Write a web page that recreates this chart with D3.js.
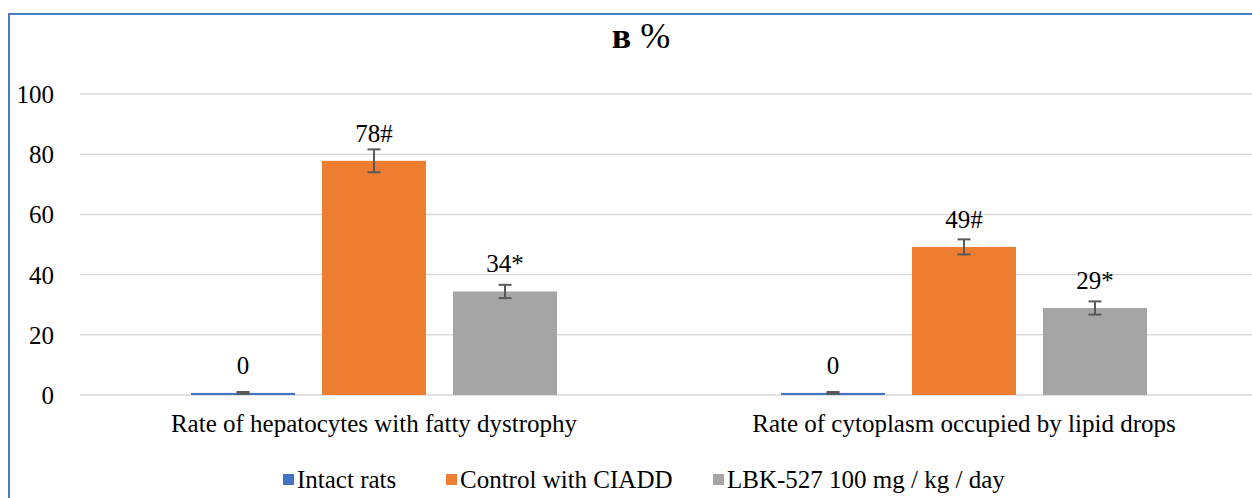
<!DOCTYPE html>
<html><head><meta charset="utf-8">
<script src="https://cdn.jsdelivr.net/npm/d3@7"></script>
<style>html,body{margin:0;padding:0;background:#fff;}svg{display:block;}
svg text{font-family:"Liberation Serif","Times New Roman",serif;}</style>
</head><body>
<svg id="c" width="1252" height="498"></svg>
<script>
const categories = ["Rate of hepatocytes with fatty dystrophy", "Rate of cytoplasm occupied by lipid drops"];
const seriesNames = ["Intact rats", "Control with CIADD", "LBK-527 100 mg / kg / day"];
const intactValues = [0.7, 0.7];
const controlValues = [77.8, 49.2];
const lbkValues = [34.4, 28.9];
const intactErrors = [0.3, 0.3];
const controlErrors = [3.8, 2.5];
const lbkErrors = [2.2, 2.2];
const intactLabels = ["0", "0"];
const controlLabels = ["78#", "49#"];
const lbkLabels = ["34*", "29*"];
const yTicks = [0, 20, 40, 60, 80, 100];
const colors = ["#4472C4", "#ED7D31", "#A5A5A5"];

const values = [intactValues, controlValues, lbkValues];
const errors = [intactErrors, controlErrors, lbkErrors];
const labels = [intactLabels, controlLabels, lbkLabels];

const svg = d3.select("#c");
svg.append("rect").attr("width",1252).attr("height",498).attr("fill","#fff");

const x0 = d3.scaleBand().domain(categories).range([80, 1260]).padding(0);
const x1 = d3.scaleBand().domain(seriesNames).range([111, 477]).paddingInner(0.206).paddingOuter(0);
const y = d3.scaleLinear().domain([0, 100]).range([395, 94]);

// gridlines
svg.append("g").selectAll("line").data(yTicks).join("line")
  .attr("x1", 80).attr("x2", 1260)
  .attr("y1", d => y(d)).attr("y2", d => y(d))
  .attr("stroke", "#d9d9d9").attr("stroke-width", 1.5);

// y axis labels
const yAxis = d3.axisLeft(y).tickValues(yTicks).tickSize(0).tickPadding(0);
const ga = svg.append("g").attr("transform","translate(54,0)").call(yAxis);
ga.select(".domain").remove();
ga.attr("font-family", null);
ga.selectAll("text").attr("font-size", 25).attr("fill","#000").attr("dy","0.34em");

// bars
const data = [];
categories.forEach((c, i) => seriesNames.forEach((s, j) => {
  data.push({c, s, j, v: values[j][i], e: errors[j][i], l: labels[j][i]});
}));
const g = svg.append("g");
g.selectAll("rect.bar").data(data).join("rect").attr("class","bar")
  .attr("x", d => x0(d.c) + x1(d.s))
  .attr("width", x1.bandwidth())
  .attr("y", d => y(d.v))
  .attr("height", d => y(0) - y(d.v))
  .attr("fill", d => colors[d.j]);

// error bars
const eg = g.selectAll("g.err").data(data).join("g").attr("class","err")
  .attr("stroke", "#595959").attr("stroke-width", 2);
const cx = d => x0(d.c) + x1(d.s) + x1.bandwidth()/2;
eg.append("line").attr("x1", cx).attr("x2", cx).attr("y1", d => y(d.v + d.e)).attr("y2", d => y(d.v - d.e));
eg.append("line").attr("x1", d => cx(d) - 6.5).attr("x2", d => cx(d) + 6.5).attr("y1", d => y(d.v + d.e)).attr("y2", d => y(d.v + d.e));
eg.append("line").attr("x1", d => cx(d) - 6.5).attr("x2", d => cx(d) + 6.5).attr("y1", d => y(d.v - d.e)).attr("y2", d => y(d.v - d.e));

// data labels
g.selectAll("text.lbl").data(data).join("text").attr("class","lbl")
  .attr("x", cx).attr("y", d => y(d.v) - 19)
  .attr("text-anchor","middle").attr("font-size", 25).attr("fill","#000")
  .text(d => d.l);

// category labels
svg.append("g").selectAll("text").data(categories).join("text")
  .attr("x", d => x0(d) + x1.range()[0] + (x1.range()[1]-x1.range()[0])/2)
  .attr("y", 432).attr("text-anchor","middle")
  .attr("font-size", 25).attr("fill","#000")
  .text(d => d);

// title
const t = svg.append("text").attr("x", 641).attr("y", 48).attr("text-anchor","middle").attr("fill","#000");
t.append("tspan").attr("font-size", 36).attr("font-weight","bold").text("в");
t.append("tspan").attr("font-size", 36).text(" %");

// legend
const legendX = [283, 446, 713];
const lg = svg.append("g").selectAll("g").data(seriesNames).join("g")
  .attr("transform", (d, i) => `translate(${legendX[i]},0)`);
lg.append("rect").attr("x",0).attr("y",474).attr("width",11).attr("height",11).attr("fill",(d,i)=>colors[i]);
lg.append("text").attr("x",14).attr("y",488).attr("font-size",25).attr("fill","#000").text(d=>d);

// border
svg.append("path").attr("d","M9,498 L9,14 L1252,14").attr("fill","none").attr("stroke","#4A7EBB").attr("stroke-width",2);
</script>
</body></html>
